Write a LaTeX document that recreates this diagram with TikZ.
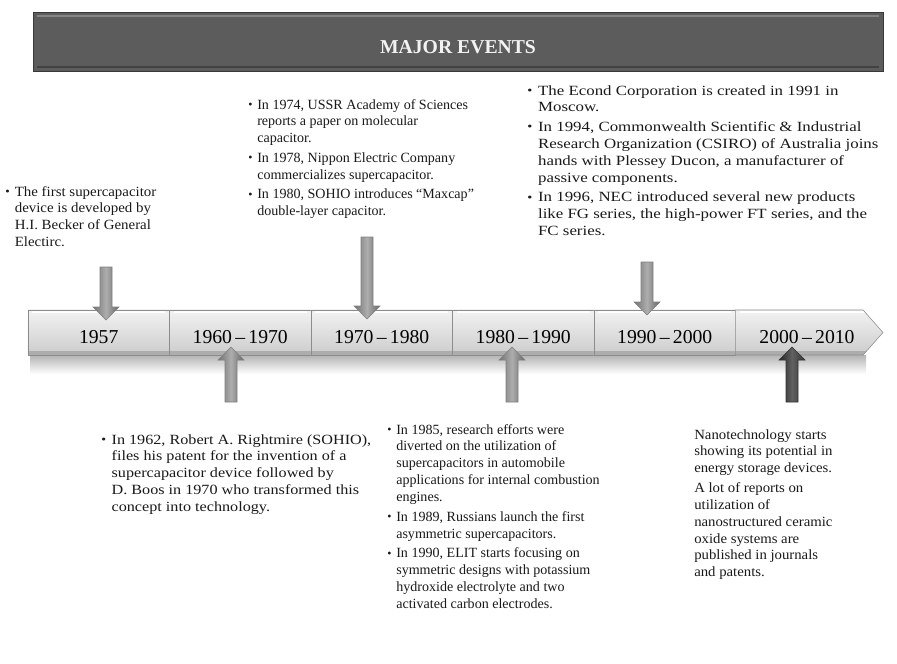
\documentclass[tikz,border=0pt]{standalone}
\usepackage{fontspec}
\setmainfont{Liberation Serif}
\usepackage{graphicx}
\usetikzlibrary{shapes.symbols}

\newcommand\vin{\makebox[6.4pt][l]{\raisebox{0.4pt}{\fontsize{8.5}{8.5}\selectfont\textbullet}}}
\newcommand\sng{\hspace*{6.4pt}}
\newcommand\bloque[2]{\scalebox{#1}[1]{\begin{tabular}[t]{@{}l@{}}#2\end{tabular}}}

\begin{document}
\begin{tikzpicture}[x=0.025cm,y=-0.025cm]
\tikzset{
  caja/.style={draw=black!45,top color=black!5,bottom color=black!20,minimum width=3.5375cm,minimum height=1.125cm,inner sep=0pt,
    font=\fontsize{14}{16}\selectfont,text height=15pt,text depth=0pt,
    path picture={\fill[black!32] (path picture bounding box.south west) rectangle ([yshift=3pt]path picture bounding box.south east);
      \draw[white,line width=1pt] ([xshift=3pt,yshift=-1.5pt]path picture bounding box.north west) -- ([xshift=-3pt,yshift=-1.5pt]path picture bounding box.north east);}},
  flecha/.style={draw=black!50,left color=black!55,right color=black!60,middle color=black!32},
  flechaosc/.style={draw=black!80,left color=black!85,right color=black!80,middle color=black!62},
  texto/.style={anchor=base west,inner sep=0pt,text=black!90,font=\fontsize{10}{12}\selectfont}
}
\useasboundingbox (0,0) rectangle (897,664);

% Cabecera
\node (cab) at (458,41.5) [draw=black!78,fill=black!64,minimum width=21.25cm,minimum height=1.475cm] {};
\draw[black!48,line width=2pt] (37,16) -- (879,16);
\draw[black!74,line width=2pt] (37,67) -- (879,67);
\node (tit) at (458,53) [anchor=base,inner sep=0pt,text=white!95!black,font=\bfseries\fontsize{14}{16}\selectfont] {MAJOR EVENTS};

% Sombra de la linea de tiempo
\shade[top color=black!30,bottom color=white] (30,355) rectangle (866,374);

% Cajas de fechas
\node (b1) at (98.75,332.5) [caja] {1957};
\node (b2) at (240.25,332.5) [caja] {1960\,--\,1970};
\node (b3) at (381.75,332.5) [caja] {1970\,--\,1980};
\node (b4) at (523.25,332.5) [caja] {1980\,--\,1990};
\node (b5) at (664.75,332.5) [caja] {1990\,--\,2000};
\node (b6) at (799.25,332.5) [caja,signal,signal to=east,signal pointer angle=97,minimum width=3.6875cm] {\hspace*{11pt}2000\,--\,2010};

% Flechas hacia abajo
\coordinate (p1) at (106,320);
\coordinate (p3) at (367,319);
\coordinate (p5) at (647,315);
\draw[flecha] (p1) -- ++(-13,-13) -- ++(7,0) -- ++(0,-40) -- ++(12,0) -- ++(0,40) -- ++(7,0) -- cycle;
\draw[flecha] (p3) -- ++(-13,-13) -- ++(7,0) -- ++(0,-69) -- ++(12,0) -- ++(0,69) -- ++(7,0) -- cycle;
\draw[flecha] (p5) -- ++(-13,-13) -- ++(7,0) -- ++(0,-40) -- ++(12,0) -- ++(0,40) -- ++(7,0) -- cycle;
% Flechas hacia arriba
\coordinate (p2) at (231,347);
\coordinate (p4) at (512,347);
\coordinate (p6) at (792,347);
\draw[flecha] (p2) -- ++(-13,13) -- ++(7,0) -- ++(0,42) -- ++(12,0) -- ++(0,-42) -- ++(7,0) -- cycle;
\draw[flecha] (p4) -- ++(-13,13) -- ++(7,0) -- ++(0,42) -- ++(12,0) -- ++(0,-42) -- ++(7,0) -- cycle;
\draw[flechaosc] (p6) -- ++(-13,13) -- ++(7,0) -- ++(0,42) -- ++(12,0) -- ++(0,-42) -- ++(7,0) -- cycle;

% Textos de arriba
\node (t1957) at (5,196) [texto] {\bloque{1.06}{\vin The first supercapacitor\\ \sng device is developed by\\ \sng H.I. Becker of General\\ \sng Electirc.}};
\node (t1970) at (248,109) [texto] {\bloque{1}{\vin In 1974, USSR Academy of Sciences\\ \sng reports a paper on molecular\\ \sng capacitor.\\[2pt]
  \vin In 1978, Nippon Electric Company\\ \sng commercializes supercapacitor.\\[2pt]
  \vin In 1980, SOHIO introduces ``Maxcap''\\ \sng double-layer capacitor.}};
\node (t1990) at (527,95) [texto] {\bloque{1.2}{\vin The Econd Corporation is created in 1991 in\\ \sng Moscow.\\[2pt]
  \vin In 1994, Commonwealth Scientific \& Industrial\\ \sng Research Organization (CSIRO) of Australia joins\\ \sng hands with Plessey Ducon, a manufacturer of\\ \sng passive components.\\[2pt]
  \vin In 1996, NEC introduced several new products\\ \sng like FG series, the high-power FT series, and the\\ \sng FC series.}};

% Textos de abajo
\node (t1960) at (101,444) [texto] {\bloque{1.15}{\vin In 1962, Robert A. Rightmire (SOHIO),\\ \sng files his patent for the invention of a\\ \sng supercapacitor device followed by\\ \sng D. Boos in 1970 who transformed this\\ \sng concept into technology.}};
\node (t1980) at (387,434) [texto] {\bloque{1}{\vin In 1985, research efforts were\\ \sng diverted on the utilization of\\ \sng supercapacitors in automobile\\ \sng applications for internal combustion\\ \sng engines.\\[2pt]
  \vin In 1989, Russians launch the first\\ \sng asymmetric supercapacitors.\\[2pt]
  \vin In 1990, ELIT starts focusing on\\ \sng symmetric designs with potassium\\ \sng hydroxide electrolyte and two\\ \sng activated carbon electrodes.}};
\node (t2000) at (694,439) [texto] {\bloque{1.05}{Nanotechnology starts\\ showing its potential in\\ energy storage devices.\\[2pt]
  A lot of reports on\\ utilization of\\ nanostructured ceramic\\ oxide systems are\\ published in journals\\ and patents.}};

\end{tikzpicture}
\end{document}
